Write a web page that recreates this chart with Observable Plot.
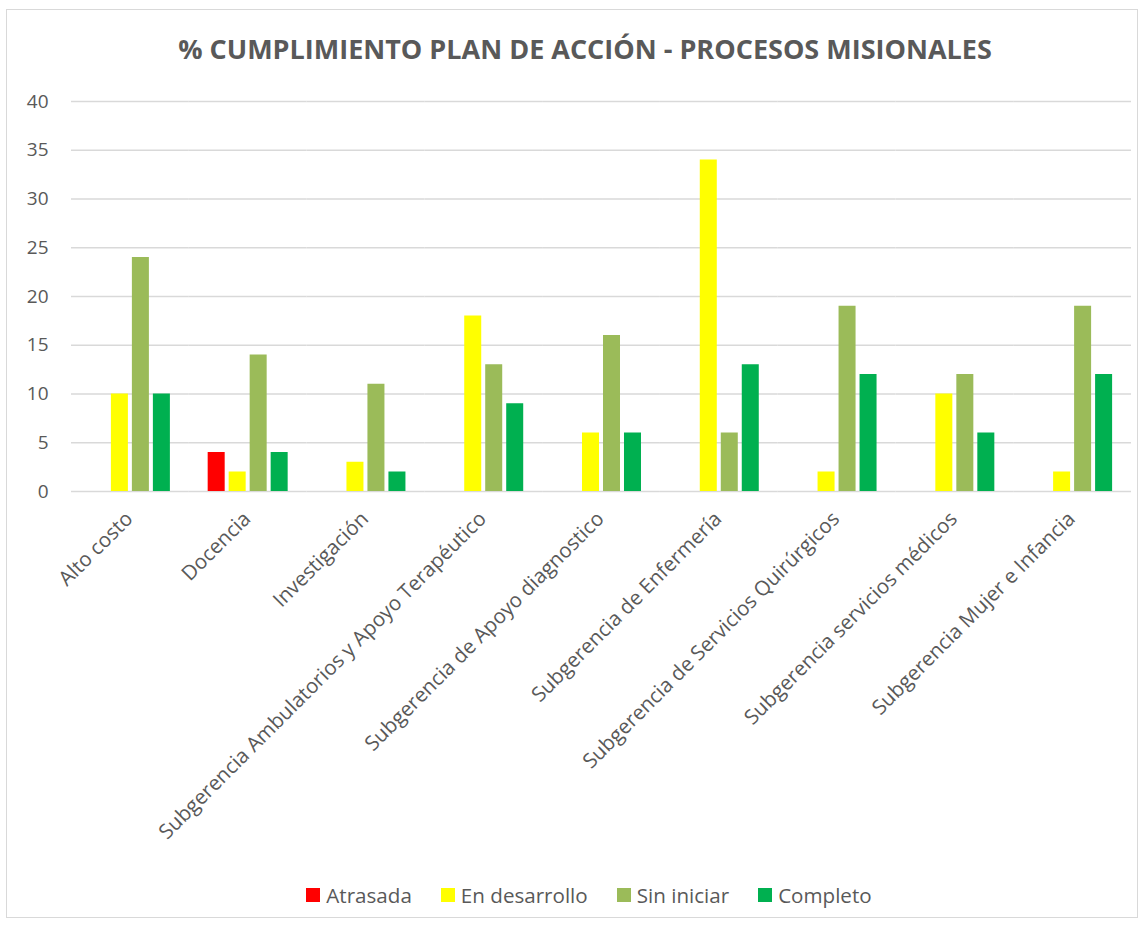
<!DOCTYPE html>
<html><head><meta charset="utf-8">
<script src="https://cdn.jsdelivr.net/npm/d3@7"></script>
<script src="https://cdn.jsdelivr.net/npm/@observablehq/plot@0.6"></script>
<style>
body{margin:0;background:#fff;font-family:"Open Sans",sans-serif;}
#frame{position:absolute;left:6px;top:9px;width:1132px;height:909px;border:1px solid #d9d9d9;box-sizing:border-box;}
#title{position:absolute;left:0;width:1170px;top:30px;text-align:center;font-weight:bold;font-size:27px;color:#595959;white-space:nowrap;}
#chart{position:absolute;left:0;top:80px;}
#legend{position:absolute;left:0;width:1178px;top:881px;display:flex;justify-content:center;gap:29px;font-size:20.6px;color:#595959;}
.item{display:flex;align-items:center;}
.sw{width:14px;height:14px;margin-right:6px;display:inline-block;}
</style></head>
<body>
<div id="frame"></div>
<div id="title">% CUMPLIMIENTO PLAN DE ACCIÓN - PROCESOS MISIONALES</div>
<div id="chart"></div>
<div id="legend"></div>
<script>
const categories = ["Alto costo","Docencia","Investigación","Subgerencia Ambulatorios y Apoyo Terapéutico","Subgerencia de Apoyo diagnostico","Subgerencia de Enfermería","Subgerencia de Servicios Quirúrgicos","Subgerencia servicios médicos","Subgerencia Mujer e Infancia"];
const series = ["Atrasada","En desarrollo","Sin iniciar","Completo"];
const atrasada     = [0, 4, 0, 0, 0, 0, 0, 0, 0];
const enDesarrollo = [10, 2, 3, 18, 6, 34, 2, 10, 2];
const sinIniciar   = [24, 14, 11, 13, 16, 6, 19, 12, 19];
const completo     = [10, 4, 2, 9, 6, 13, 12, 6, 12];
const colors = ["#FF0000","#FFFF00","#9BBB59","#00B050"];
const yTicks = [0,5,10,15,20,25,30,35,40];

const valuesBySeries = [atrasada, enDesarrollo, sinIniciar, completo];
const table = [];
categories.forEach((c,i)=>series.forEach((s,j)=>table.push({category:c, series:s, value:valuesBySeries[j][i]})));

const chart = Plot.plot({
  width:1147, height:780,
  marginLeft:71, marginRight:16, marginTop:21, marginBottom:369,
  style:{fontFamily:"Open Sans, sans-serif", fontSize:"19px", color:"#595959", background:"transparent", overflow:"visible"},
  fx:{domain:categories, padding:0, round:false, label:null, axis:null},
  x:{domain:series, axis:null, paddingInner:0.19, paddingOuter:0.9, round:false},
  y:{domain:[0,40], axis:null},
  color:{domain:series, range:colors},
  marks:[
    Plot.ruleY(yTicks,{stroke:"#d9d9d9", strokeWidth:1.3}),
    Plot.barY(table,{fx:"category", x:"series", y:"value", fill:"series", filter:d=>d.value>0}),
    Plot.axisY({ticks:yTicks, tickSize:0, tickPadding:23, label:null, fontSize:19}),
    Plot.axisFx({anchor:"bottom", tickRotate:-45, tickSize:0, tickPadding:24, dx:-1, label:null, fontSize:20.5})
  ]
});
document.getElementById("chart").appendChild(chart);

const legend = document.getElementById("legend");
series.forEach((s,j)=>{
  const it=document.createElement("div"); it.className="item";
  const sw=document.createElement("span"); sw.className="sw"; sw.style.background=colors[j];
  it.appendChild(sw); it.appendChild(document.createTextNode(s)); legend.appendChild(it);
});
</script>
</body></html>
